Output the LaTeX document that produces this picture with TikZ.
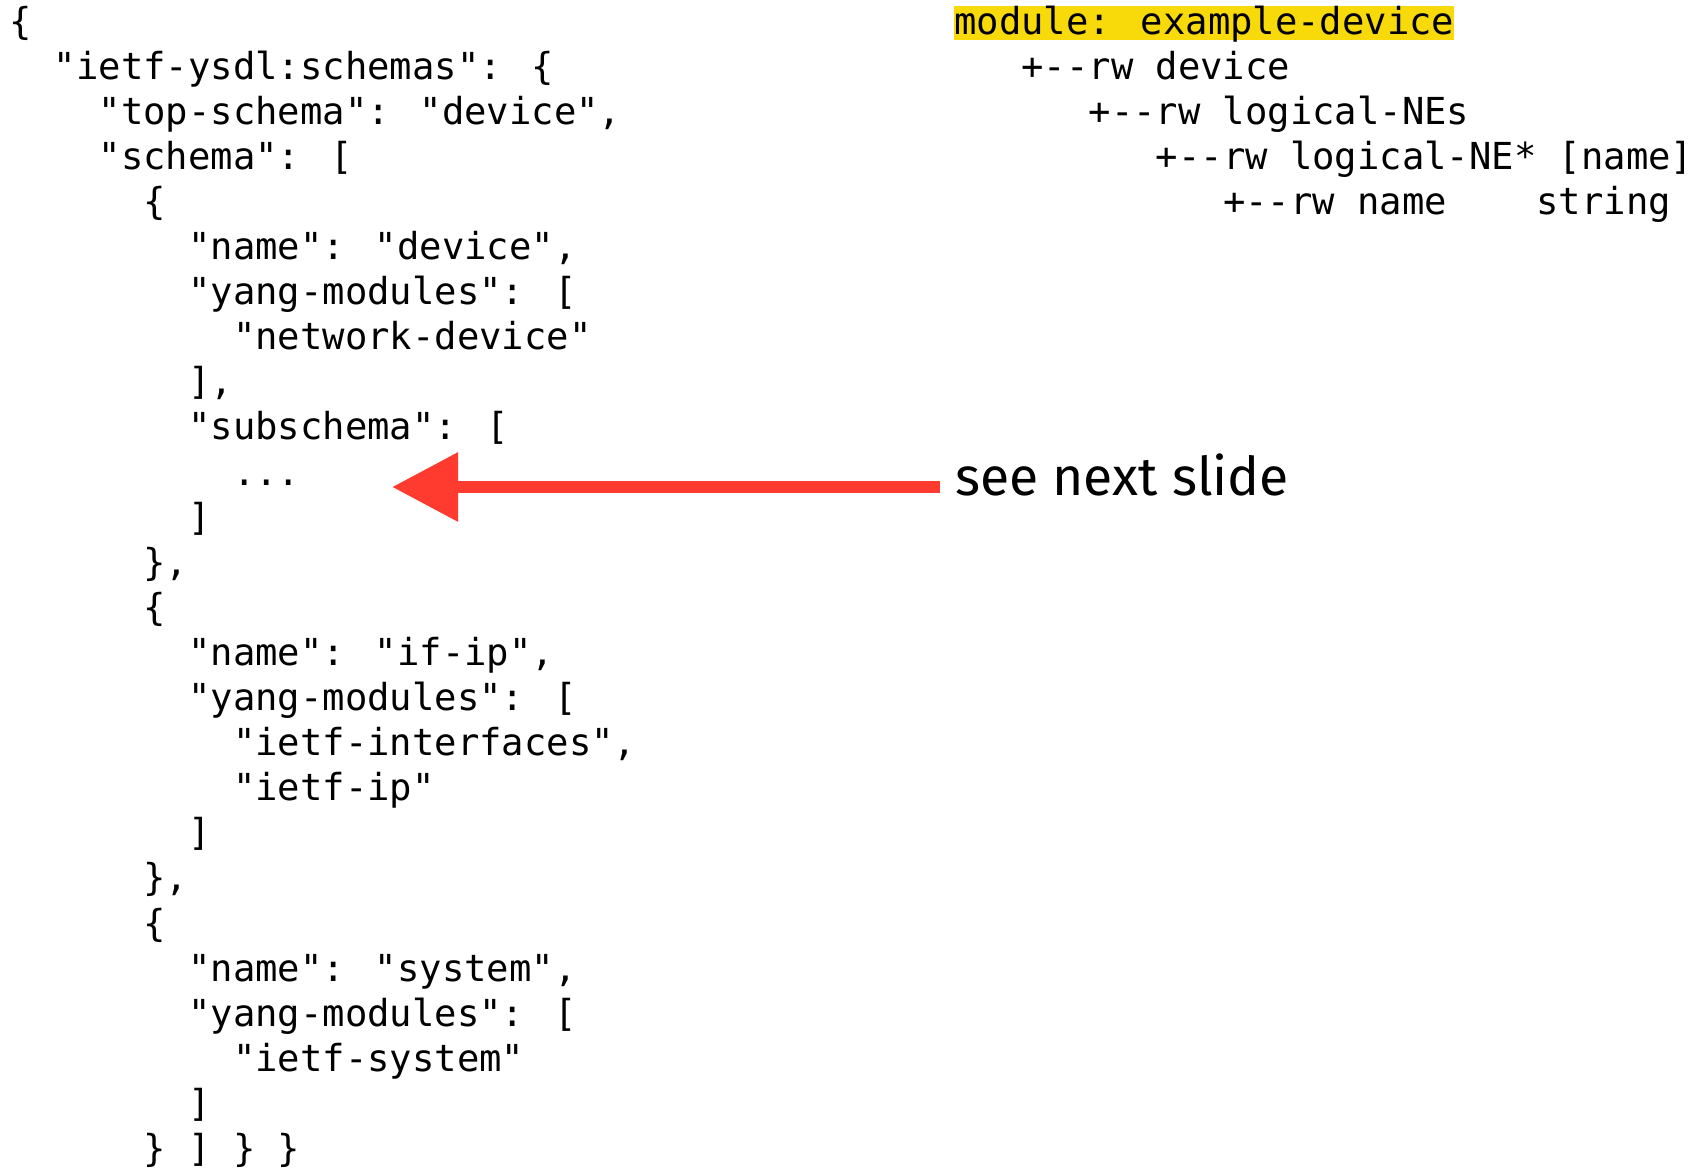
\documentclass[tikz,border=0pt]{standalone}
\usepackage{fontspec}
\newfontfamily\codefont{DejaVu Sans Mono}
\newfontfamily\notefont{Fira Sans}
\usepackage{tikz}
\usetikzlibrary{positioning,
        arrows.meta}
\usepackage{xcolor}
\definecolor{hlyellow}{RGB}{248,218,10}
\definecolor{arrowred}{RGB}{255,59,48}

\begin{document}
\begin{tikzpicture}[x=22.4pt,y=-45.1pt,
            code/.style={font=\codefont\fontsize{37.2}{45}\selectfont,anchor=base west,inner sep=0pt},
            hl/.style={code,fill=hlyellow,text height=28pt,text depth=6pt},
            bigarrow/.style={draw=arrowred,line width=12.6pt,-{Triangle[length=66pt,width=66pt]}}]
            \fill [white] (0,0) rectangle (75.536,25.987);
            \useasboundingbox (0,0) rectangle (75.536,25.987);

            \begin{scope}[shift={(0.4,0.754)}]
            % json on the left
            \node [code] (open) at (0,0) {\{};
            \node [code] (ysdl) at (2,1) {"ietf-ysdl:schemas": \{};
            \node [code] (top) at (4,2) {"top-schema": "device",};
            \node [code] (schema) at (4,3) {"schema": [};
            \node [code] (obj1) at (6,4) {\{};
            \node [code] (name1) at (8,5) {"name": "device",};
            \node [code] (mods1) at (8,6) {"yang-modules": [};
            \node [code] (netdev) at (10,7) {"network-device"};
            \node [code] (close1) at (8,8) {],};
            \node [code] (sub) at (8,9) {"subschema": [};
            \node [code] (dots) at (10,10) {...};
            \node [code] (subend) at (8,11) {]};
            \node [code] (objend1) at (6,12) {\},};
            \node [code] (obj2) at (6,13) {\{};
            \node [code] (name2) at (8,14) {"name": "if-ip",};
            \node [code] (mods2) at (8,15) {"yang-modules": [};
            \node [code] (ietfif) at (10,16) {"ietf-interfaces",};
            \node [code] (ietfip) at (10,17) {"ietf-ip"};
            \node [code] (close2) at (8,18) {]};
            \node [code] (objend2) at (6,19) {\},};
            \node [code] (obj3) at (6,20) {\{};
            \node [code] (name3) at (8,21) {"name": "system",};
            \node [code] (mods3) at (8,22) {"yang-modules": [};
            \node [code] (ietfsys) at (10,23) {"ietf-system"};
            \node [code] (close3) at (8,24) {]};
            \node [code] (theend) at (6,25) {\} ] \} \}};

            % tree on the right
            \node [hl] (module) at (42.19,0) {module: example-device};
            \node [code] (device) at (45.19,1) {+--rw device};
            \node [code] (lnes) at (48.19,2) {+--rw logical-NEs};
            \node [code] (lne) at (51.19,3) {+--rw logical-NE* [name]};
            \node [code] (lnename) at (54.19,4) {+--rw name\ \ \ \ string};
            \end{scope}

            \node [anchor=base west,inner sep=0pt,font=\notefont\fontsize{53.5}{60}\selectfont] (note) at (42.63,10.976) {see next slide};
            \coordinate (tip) at (17.5,10.798);

            \draw [bigarrow,shorten <=15pt] (note.west |- tip) -- (tip);
        \end{tikzpicture}
\end{document}
